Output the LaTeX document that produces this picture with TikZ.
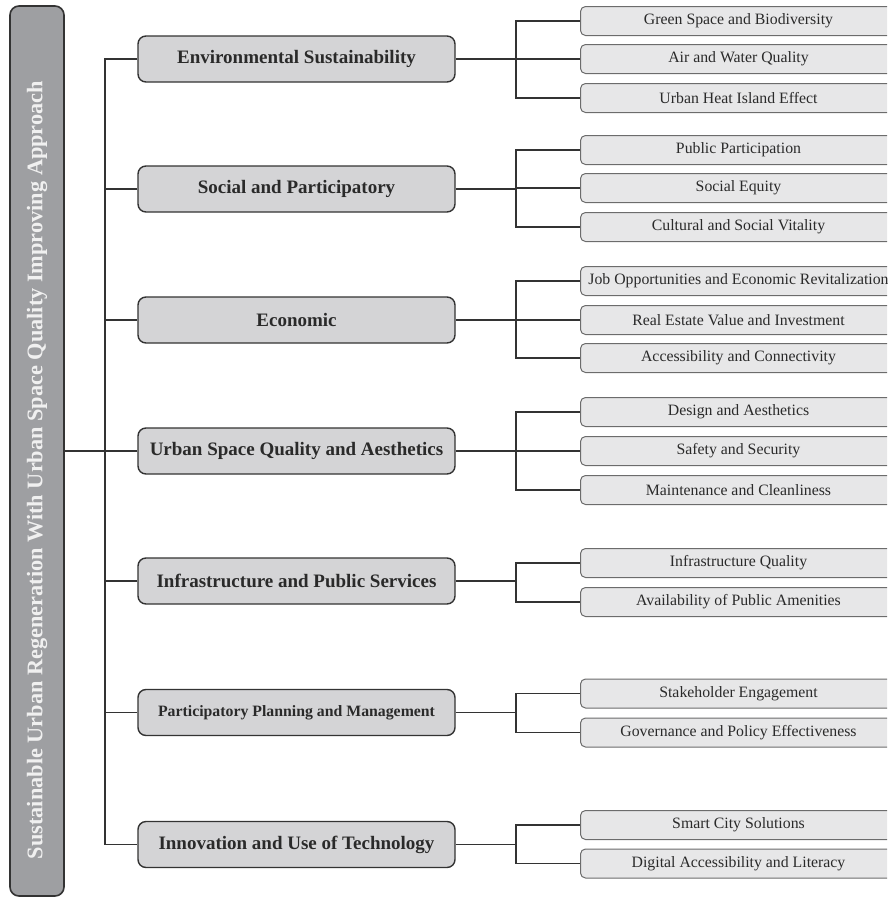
\documentclass[tikz,border=0pt]{standalone}
\usepackage{fontspec}
\setmainfont{Liberation Serif}
\definecolor{rootfill}{HTML}{9E9FA2}
\definecolor{catfill}{HTML}{D4D4D6}
\definecolor{leaffill}{HTML}{E7E7E8}
\definecolor{linecol}{HTML}{333333}
\definecolor{txtdark}{HTML}{2A2A2A}
\begin{document}
\begin{tikzpicture}[x=1pt,y=-1pt,
  rootbox/.style={draw=linecol, line width=1.6pt, fill=rootfill, rounded corners=9pt,
    minimum width=890pt, minimum height=54pt, inner sep=0pt,
    font=\fontsize{22.3}{24}\selectfont\bfseries, text=white!88!gray},
  catbox/.style={draw=linecol, line width=1.4pt, fill=catfill, rounded corners=8pt,
    minimum width=317pt, minimum height=46pt, inner sep=0pt, text=txtdark,
    font=\fontsize{19}{21}\selectfont\bfseries},
  leafbox/.style={draw=gray!85!black, line width=1pt, fill=leaffill, rounded corners=5pt,
    minimum width=316pt, minimum height=29pt, inner sep=0pt, anchor=west, text=txtdark,
    font=\fontsize{15.8}{18}\selectfont},
  conn/.style={draw=linecol, line width=1.8pt}
]
\useasboundingbox (0,0) rectangle (887,897);
\clip (0,0) rectangle (887,897);

% root
\node[rootbox, rotate=90] (root) at (37,451) {Sustainable Urban Regeneration With Urban Space Quality Improving Approach\hspace*{38pt}};

% categories
\node[catbox] (env) at (296.5,59) {Environmental Sustainability};
\node[catbox] (soc) at (296.5,189) {Social and Participatory};
\node[catbox] (eco) at (296.5,320) {Economic};
\node[catbox] (urb) at (296.5,451) {Urban Space Quality and Aesthetics};
\node[catbox] (inf) at (296.5,581) {Infrastructure and Public Services};
\node[catbox, font=\fontsize{15.8}{18}\selectfont\bfseries] (par) at (296.5,712.5) {Participatory Planning and Management};
\node[catbox] (inn) at (296.5,844.5) {Innovation and Use of Technology};

% leaves
\node[leafbox] (e1) at (580,21) {Green Space and Biodiversity};
\node[leafbox] (e2) at (580,59) {Air and Water Quality};
\node[leafbox] (e3) at (580,98) {Urban Heat Island Effect};
\node[leafbox] (s1) at (580,150) {Public Participation};
\node[leafbox] (s2) at (580,188) {Social Equity};
\node[leafbox] (s3) at (580,227) {Cultural and Social Vitality};
\node[leafbox] (c1) at (580,281) {Job Opportunities and Economic Revitalization};
\node[leafbox] (c2) at (580,320) {Real Estate Value and Investment};
\node[leafbox] (c3) at (580,358) {Accessibility and Connectivity};
\node[leafbox] (u1) at (580,412) {Design and Aesthetics};
\node[leafbox] (u2) at (580,451) {Safety and Security};
\node[leafbox] (u3) at (580,490) {Maintenance and Cleanliness};
\node[leafbox] (i1) at (580,563) {Infrastructure Quality};
\node[leafbox] (i2) at (580,602) {Availability of Public Amenities};
\node[leafbox] (p1) at (580,693.5) {Stakeholder Engagement};
\node[leafbox] (p2) at (580,732.5) {Governance and Policy Effectiveness};
\node[leafbox] (n1) at (580,825) {Smart City Solutions};
\node[leafbox] (n2) at (580,863.5) {Digital Accessibility and Literacy};

% trunk
\coordinate (T) at (105,0);
\coordinate (B) at (516,0);
\draw[conn] (root.south) -- (root.south -| T);
\draw[conn] (env.west) -- (env.west -| T) -- (inn.west -| T) -- (inn.west);
\foreach \c in {soc,eco,urb,inf,par} \draw[conn] (\c.west) -- (\c.west -| T);

% branches
\foreach \c/\a/\m/\z in {env/e1/e2/e3, soc/s1/s2/s3, eco/c1/c2/c3, urb/u1/u2/u3}{
  \draw[conn] (\c.east) -- (\c.east -| B);
  \draw[conn] (\a.west) -- (\a.west -| B) -- (\z.west -| B) -- (\z.west);
  \draw[conn] (\m.west) -- (\m.west -| B);
}
\foreach \c/\a/\z in {inf/i1/i2, par/p1/p2, inn/n1/n2}{
  \draw[conn] (\c.east) -- (\c.east -| B);
  \draw[conn] (\a.west) -- (\a.west -| B) -- (\z.west -| B) -- (\z.west);
}
\end{tikzpicture}
\end{document}
